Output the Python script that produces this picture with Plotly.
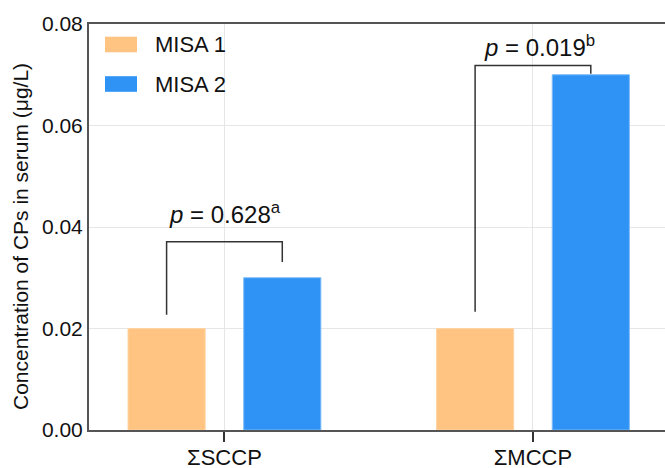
import plotly.graph_objects as go

# ---- data ----
categories = ["ΣSCCP", "ΣMCCP"]
misa1_values = [0.02, 0.02]
misa2_values = [0.03, 0.07]
series_names = ["MISA 1", "MISA 2"]
p_labels = ["<i>p</i> = 0.628<sup>a</sup>", "<i>p</i> = 0.019<sup>b</sup>"]
bracket_top = [0.0371, 0.0718]
bracket_left_bottom = [0.0227, 0.0233]
bracket_right_bottom = [0.0331, 0.0702]
p_label_y = [0.0395, 0.0724]
p_label_dx = [0.002, 0.02]
y_ticks = [0.00, 0.02, 0.04, 0.06, 0.08]
y_tick_labels = ["0.00", "0.02", "0.04", "0.06", "0.08"]
y_title = "Concentration of CPs in serum (μg/L)"

colors = ["#FFC481", "#2E93F4"]
edge_colors = ["#FFD3A4", "#7DBBF8"]
FONT = "Liberation Sans, Arial, sans-serif"
bar_w = 0.25
offsets = [-0.3125, 0.0625]

fig = go.Figure()
for vals, name, col, ecol, off in zip([misa1_values, misa2_values], series_names, colors, edge_colors, offsets):
    fig.add_trace(go.Bar(
        x=categories, y=vals, name=name, width=bar_w, offset=off,
        marker=dict(color=col, line=dict(width=1, color=ecol)),
        showlegend=False,
    ))

shapes = []
annotations = []
for i in range(len(categories)):
    xl = i + offsets[0] + bar_w / 2
    xr = i + offsets[1] + bar_w / 2
    path = (f"M {xl},{bracket_left_bottom[i]} L {xl},{bracket_top[i]} "
            f"L {xr},{bracket_top[i]} L {xr},{bracket_right_bottom[i]}")
    shapes.append(dict(type="path", path=path, xref="x", yref="y",
                       line=dict(color="#333333", width=1.5)))
    annotations.append(dict(x=i + p_label_dx[i], y=p_label_y[i], xref="x", yref="y",
                            text=p_labels[i], showarrow=False, xanchor="center",
                            yanchor="bottom", font=dict(family=FONT, size=24, color="#111111")))

# custom legend (swatches + labels)
leg_rows_px = [44.5, 84.0]
plot_top, plot_bot = 24, 430
PW = 576
for k, (name, col) in enumerate(zip(series_names, colors)):
    cy = leg_rows_px[k]
    y0 = 1 - (cy - 7.8 - plot_top) / (plot_bot - plot_top)
    y1 = 1 - (cy + 7.8 - plot_top) / (plot_bot - plot_top)
    shapes.append(dict(type="rect", xref="paper", yref="paper",
                       x0=(105 - 89) / PW, x1=(137 - 89) / PW, y0=y1, y1=y0,
                       fillcolor=col, line=dict(width=0)))
    annotations.append(dict(x=(153 - 89) / PW, y=1 - (cy - plot_top) / (plot_bot - plot_top),
                            xref="paper", yref="paper", text=name, showarrow=False,
                            xanchor="left", yanchor="middle",
                            font=dict(family=FONT, size=22, color="#111111")))

# y-axis title as rotated annotation
annotations.append(dict(x=(20 - 89) / PW, y=1 - (237 - plot_top) / (plot_bot - plot_top),
                        xref="paper", yref="paper", text=y_title, showarrow=False,
                        textangle=-90, xanchor="center", yanchor="middle",
                        font=dict(family=FONT, size=21, color="#111111")))

fig.update_layout(
    width=665, height=468,
    margin=dict(l=89, r=0, t=24, b=38, autoexpand=False),
    paper_bgcolor="white", plot_bgcolor="white",
    barmode="overlay",
    font=dict(family=FONT, size=20, color="#111111"),
    shapes=shapes, annotations=annotations,
    showlegend=False,
)
fig.update_xaxes(
    type="category", range=[-0.439, 1.428], automargin=False,
    showline=True, linecolor="#555555", linewidth=2, mirror=True,
    ticks="outside", ticklen=10, tickwidth=2, tickcolor="#333333",
    ticklabelstandoff=-3,
    showgrid=True, gridcolor="#E6E6E6", gridwidth=1,
    tickfont=dict(family=FONT, size=22, color="#111111"),
)
fig.update_yaxes(
    range=[0, 0.08], tickvals=y_ticks, ticktext=y_tick_labels, automargin=False,
    showline=True, linecolor="#555555", linewidth=2, mirror=False,
    ticks="", showgrid=True, gridcolor="#E6E6E6", gridwidth=1, zeroline=False,
    tickfont=dict(family=FONT, size=21, color="#111111"),
)

fig.write_html("out.html", config={"displayModeBar": False},
               post_script="document.body.style.margin='0';document.body.style.overflow='hidden';")
